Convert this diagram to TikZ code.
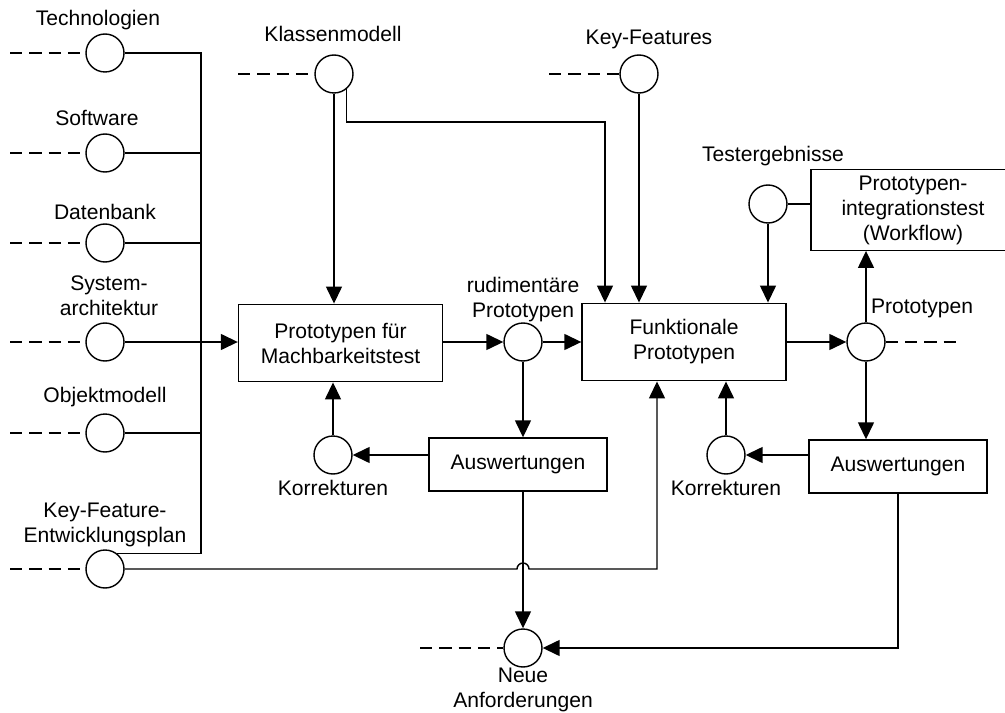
\documentclass[tikz,border=0pt]{standalone}
\usepackage{fontspec}
\setmainfont{Liberation Sans}
\usepackage{tikz}
\usetikzlibrary{arrows.meta,positioning,calc}

\tikzset{
  port/.style={circle, draw, fill=white, minimum size=0.76cm, inner sep=0pt},
  stage/.style={rectangle, draw, align=center, minimum width=4.08cm, minimum height=1.55cm},
  result/.style={rectangle, draw, minimum width=3.56cm, minimum height=1.06cm},
  tag/.style={align=center, inner sep=0pt},
  flow/.style={-{Triangle[length=0.34cm, width=0.32cm]}},
  feed/.style={dash pattern=on 7pt off 4pt}
}

\begin{document}
\begin{tikzpicture}[x=0.02cm, y=-0.02cm, line width=0.8pt, font=\fontsize{12}{14.2}\selectfont]
    \clip (0,0) rectangle (1005,713);

    % Left column: inputs with dashed feeds
    \foreach \name/\ypos in {tech/53, soft/153, db/243, arch/342, obj/433, kfe/569} {
        \coordinate (\name-in) at (10,\ypos);
        \node[port] (\name) at (105,\ypos) {};
        \draw[feed] (\name-in) -- (\name);
    }
    \node[tag] (tTech) at (98,20) {Technologien};
    \node[tag] (tSoft) at (97,118) {Software};
    \node[tag] (tDb) at (105,212) {Datenbank};
    \node[tag] (tArch) at (109,296) {System-\\architektur};
    \node[tag] (tObj) at (105,397) {Objektmodell};
    \node[tag] (tKfe) at (105,525) {Key-Feature-\\Entwicklungsplan};

    % Bus collecting the inputs
    \coordinate (bus) at (201,0);
    \draw (tech.east) -- (tech -| bus) -- (kfe.52 -| bus) -- (kfe.52);
    \foreach \name in {soft,db,obj} {
        \draw (\name.east) -- (\name -| bus);
    }

    % Stage 1: feasibility prototypes
    \node[stage] (machb) at (340.5,343) {Prototypen für\\Machbarkeitstest};
    \draw[flow] (arch.east) -- (arch.east -| machb.west);

    \node[port] (klasse) at (334,74) {};
    \coordinate (klasse-in) at (238,74);
    \node[tag] (tKlasse) at (333,34) {Klassenmodell};
    \draw[feed] (klasse-in) -- (klasse);
    \draw[flow] (klasse.south) -- (klasse.south |- machb.north);

    \node[port] (rud) at (523,342) {};
    \node[tag] (tRud) at (523,300) {rudimentäre\\Prototypen};
    \draw[flow] (machb.east |- rud) -- (rud);

    \node[result] (ausw1) at (518,464.5) {Auswertungen};
    \node[port] (korr1) at (333,455) {};
    \node[tag] (tKorr1) at (333,488) {Korrekturen};
    \draw[flow] (rud) -- (rud |- ausw1.north);
    \draw[flow] (ausw1.west |- korr1) -- (korr1);
    \draw[flow] (korr1) -- (korr1 |- machb.south);

    % Stage 2: functional prototypes
    \node[stage] (funk) at (684,342) {Funktionale\\Prototypen};
    \draw[flow] (rud) -- (rud -| funk.west);

    \coordinate (kl-turn) at (605,122);
    \draw[flow] (klasse.-50) |- (kl-turn) -- (kl-turn |- funk.north);

    \node[port] (keyf) at (639,74) {};
    \coordinate (keyf-in) at (549,74);
    \node[tag] (tKeyf) at (649,39) {Key-Features};
    \draw[feed] (keyf-in) -- (keyf);
    \draw[flow] (keyf) -- (keyf |- funk.north);

    \node[port] (test) at (768,204) {};
    \node[tag] (tTest) at (773,156) {Testergebnisse};
    \node[stage] (integ) at (913,210) {Prototypen-\\integrationstest\\(Workflow)};
    \draw (test) -- (test -| integ.west);
    \draw[flow] (test) -- (test |- funk.north);

    \node[port] (proto) at (866,342) {};
    \coordinate (proto-out) at (963,342);
    \node[tag] (tProto) at (922,308) {Prototypen};
    \draw[flow] (funk.east |- proto) -- (proto);
    \draw[feed] (proto) -- (proto-out);
    \draw[flow] (proto) -- (proto |- integ.south);

    \node[result] (ausw2) at (898,466.5) {Auswertungen};
    \node[port] (korr2) at (726,455) {};
    \node[tag] (tKorr2) at (726,488) {Korrekturen};
    \draw[flow] (proto) -- (proto |- ausw2.north);
    \draw[flow] (ausw2.west |- korr2) -- (korr2);
    \draw[flow] (korr2) -- (korr2 |- funk.south);

    % Key-feature plan into stage 2 (hops over the evaluation line)
    \coordinate (hop) at (rud |- kfe);
    \coordinate (kfe-up) at (657,569);
    \draw[flow] (kfe.east) -- ($(hop)+(-6,0)$) arc[start angle=180, end angle=360, radius=6]
        -- (kfe-up) -- (kfe-up |- funk.south);

    % New requirements
    \node[port] (neue) at (523,648) {};
    \coordinate (neue-in) at (420,648);
    \node[tag] (tNeue) at (523,690) {Neue\\Anforderungen};
    \draw[feed] (neue-in) -- (neue);
    \draw[flow] (rud |- ausw1.south) -- (neue);
    \draw[flow] (ausw2.south) |- (neue);
\end{tikzpicture}
\end{document}
